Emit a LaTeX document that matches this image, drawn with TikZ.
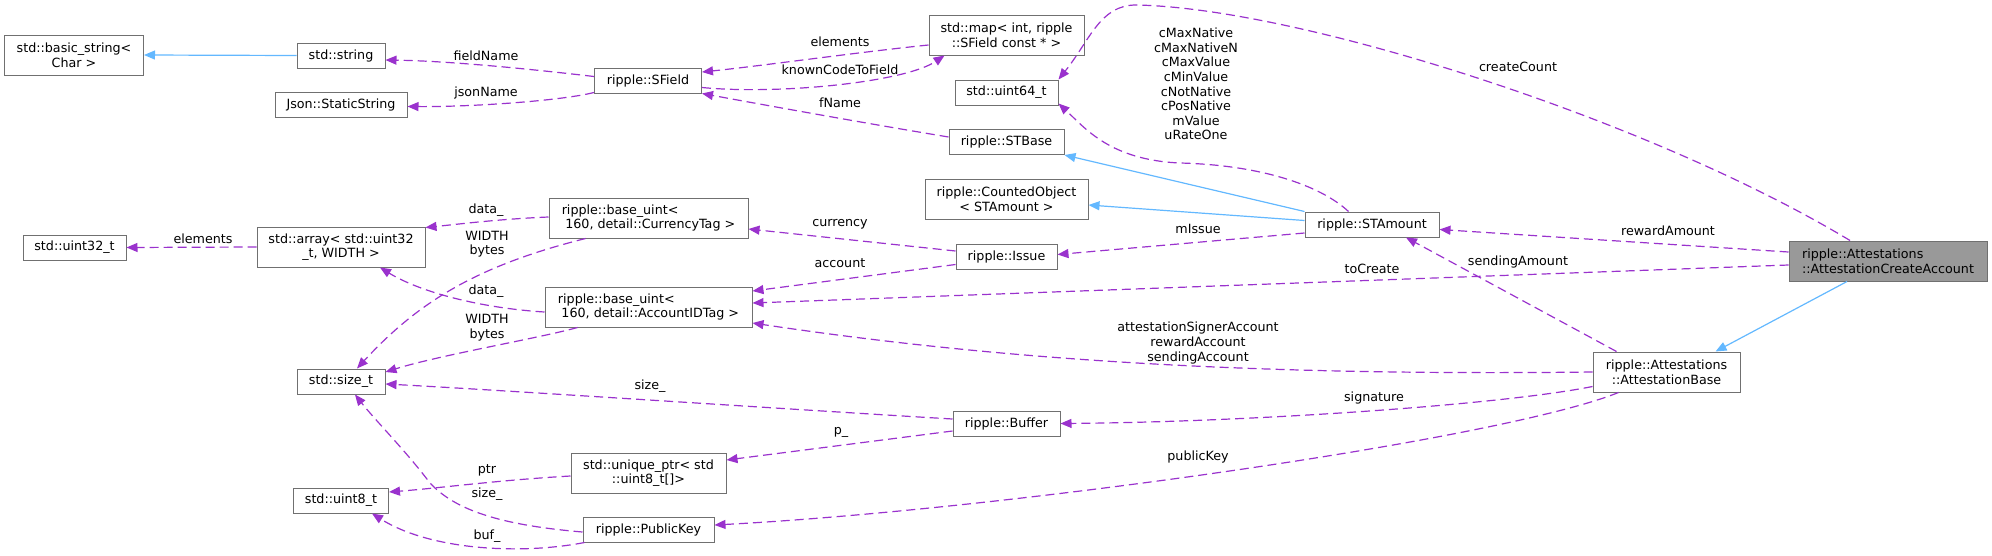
\documentclass[tikz,border=0pt]{standalone}
\usepackage{fontspec}
\setmainfont{DejaVu Sans}
\usetikzlibrary{arrows.meta,calc}
\definecolor{edgepurple}{HTML}{9A32CD}
\definecolor{inhblue}{HTML}{63B8FF}
\definecolor{boxline}{HTML}{707070}
\definecolor{curfill}{HTML}{999999}
\newcommand{\dvf}{\fontsize{12.7}{14.6}\selectfont}

\begin{document}
\begin{tikzpicture}[
  x=1pt, y=-1pt,
  cls/.style={draw=boxline, fill=white, line width=1pt, inner sep=0pt, minimum height=25pt, font=\dvf, align=center},
  clsl/.style={cls, align=left},
  current/.style={clsl, fill=curfill},
  member/.style={draw=edgepurple, line width=1.2pt, dash pattern=on 9pt off 5pt, -{Triangle[length=11pt,width=9pt]}},
  inherit/.style={draw=inhblue, line width=1.2pt, -{Triangle[length=11pt,width=9pt]}},
  lbl/.style={font=\dvf, inner sep=0pt, align=center}
]
  \useasboundingbox (0,0) rectangle (1992,555);

  \node[cls, minimum width=139pt, minimum height=40pt] (bstring) at (74,55) {std::basic\_string<\\Char >};
  \node[cls, minimum width=88pt] (stdstring) at (341,55.5) {std::string};
  \node[cls, minimum width=132pt] (jsonstr) at (341,104.5) {Json::StaticString};
  \node[cls, minimum width=103pt] (uint32) at (74.5,247.5) {std::uint32\_t};
  \node[cls, minimum width=168pt, minimum height=40pt] (stdarray) at (341,247) {std::array< std::uint32\\\_t, WIDTH >};
  \node[cls, minimum width=88pt] (sizet) at (341,381.5) {std::size\_t};
  \node[cls, minimum width=95pt] (uint8) at (341,500.5) {std::uint8\_t};
  \node[cls, minimum width=107pt] (sfield) at (648,80.5) {ripple::SField};
  \node[clsl, minimum width=199pt, minimum height=40pt] (curuint) at (648.5,218) {ripple::base\_uint<\\\hspace*{3.5pt}160, detail::CurrencyTag >};
  \node[clsl, minimum width=207pt, minimum height=40pt] (accuint) at (648.5,307) {ripple::base\_uint<\\\hspace*{3.5pt}160, detail::AccountIDTag >};
  \node[cls, minimum width=155pt, minimum height=40pt] (uniqptr) at (648.5,473) {std::unique\_ptr< std\\::uint8\_t[]>};
  \node[cls, minimum width=131pt] (pubkey) at (648.5,529.5) {ripple::PublicKey};
  \node[cls, minimum width=155pt, minimum height=40pt] (stdmap) at (1006.5,35) {std::map< int, ripple\\::SField const * >};
  \node[cls, minimum width=103pt] (uint64) at (1006.5,92.5) {std::uint64\_t};
  \node[cls, minimum width=115pt] (stbase) at (1006.5,142) {ripple::STBase};
  \node[cls, minimum width=163pt, minimum height=40pt] (counted) at (1006.5,199) {ripple::CountedObject\\< STAmount >};
  \node[cls, minimum width=101pt] (issue) at (1006.5,256.5) {ripple::Issue};
  \node[cls, minimum width=107pt] (buffer) at (1006.5,423.5) {ripple::Buffer};
  \node[cls, minimum width=134pt] (stamount) at (1372,224.5) {ripple::STAmount};
  \node[cls, minimum width=147pt, minimum height=40pt] (attbase) at (1666.5,372) {ripple::Attestations\\::AttestationBase};
  \node[current, minimum width=198pt, minimum height=40pt] (createacc) at (1888,261) {ripple::Attestations\\::AttestationCreateAccount};

  \draw[inherit] (stdstring.west) -- (bstring.east);
  \draw[member] ($(sfield.west)+(0,-4)$) .. controls (530,69) and (450,61) .. ($(stdstring.east)+(0,4.5)$);
  \draw[member] ($(sfield.south west)+(0,-1)$) .. controls (560,101) and (470,107) .. ($(jsonstr.east)+(0,2)$);
  \draw[member] ($(stdmap.west)+(0,10)$) .. controls (860,52) and (760,66) .. ($(sfield.east)+(0,-8.5)$);
  \draw[member] ($(sfield.east)+(0,7)$) .. controls (780,95) and (905,82) .. ($(stdmap.south)+(-62,0)$);
  \draw[member] ($(stbase.west)+(0,-5)$) .. controls (870,124) and (770,106) .. (sfield.south east);
  \draw[member] ($(stamount.north west)+(44,0)$) .. controls (1320,185) and (1260,165) .. (1180,163) .. controls (1110,160) and (1085,128) .. ($(uint64.south east)+(0,-2)$);
  \draw[member] ($(createacc.north)+(-38,0)$) .. controls (1650,120) and (1300,8) .. (1136,5) .. controls (1100,5) and (1090,40) .. (uint64.north east);
  \draw[inherit] (stamount.north west) -- (stbase.south east);
  \draw[inherit] ($(stamount.west)+(0,-4)$) -- ($(counted.east)+(0,6)$);
  \draw[member] ($(stamount.west)+(0,8.5)$) -- ($(issue.east)+(0,-2)$);
  \draw[member] ($(issue.west)+(0,-5.5)$) -- ($(curuint.east)+(0,11)$);
  \draw[member] ($(issue.west)+(0,8)$) -- ($(accuint.east)+(0,-16)$);
  \draw[member] ($(createacc.west)+(0,4)$) -- ($(accuint.east)+(0,-4)$);
  \draw[member] ($(createacc.west)+(0,-9)$) -- ($(stamount.east)+(0,5)$);
  \draw[member] ($(attbase.north west)+(24,0)$) -- ($(stamount.south)+(34,0)$);
  \draw[inherit] ($(createacc.south)+(-41,0)$) -- ($(attbase.north east)+(-25,0)$);
  \draw[member] (attbase.west) .. controls (1250,376) and (1000,360) .. ($(accuint.east)+(0,16)$);
  \draw[member] ($(curuint.west)+(0,-1)$) .. controls (500,219) and (460,224) .. ($(stdarray.north east)+(0,1)$);
  \draw[member] ($(curuint.south)+(-63,0)$) .. controls (480,265) and (420,300) .. ($(sizet.north)+(16,0)$);
  \draw[member] ($(accuint.west)+(0,5)$) .. controls (480,308) and (420,292) .. ($(stdarray.south)+(39,0)$);
  \draw[member] ($(accuint.south)+(-71,0)$) .. controls (540,338) and (440,355) .. ($(sizet.east)+(0,-9.5)$);
  \draw[member] (stdarray.west) -- (uint32.east);
  \draw[member] ($(buffer.west)+(0,-4.5)$) .. controls (800,410) and (500,390) .. ($(sizet.east)+(0,2.5)$);
  \draw[member] ($(buffer.west)+(0,7.5)$) -- ($(uniqptr.east)+(0,-13)$);
  \draw[member] ($(attbase.south west)+(0,-6)$) .. controls (1500,405) and (1250,422) .. (buffer.east);
  \draw[member] ($(attbase.south west)+(26,0)$) .. controls (1500,440) and (1000,510) .. ($(pubkey.east)+(0,-4.5)$);
  \draw[member] ($(uniqptr.west)+(0,3)$) .. controls (500,480) and (440,488) .. ($(uint8.east)+(0,-8.5)$);
  \draw[member] ($(pubkey.west)+(0,2.5)$) .. controls (500,525) and (455,510) .. (430,483) .. controls (405,450) and (375,420) .. ($(sizet.south)+(14,0)$);
  \draw[member] ($(pubkey.south west)+(2,0)$) .. controls (520,555) and (430,550) .. ($(uint8.south)+(31,0)$);

  \node[lbl] (lfieldname) at (486,56) {fieldName};
  \node[lbl] (ljsonname) at (486,93) {jsonName};
  \node[lbl] (lelements) at (840,42) {elements};
  \node[lbl] (lknown) at (840,70) {knownCodeToField};
  \node[lbl] (lfname) at (840,103) {fName};
  \node[lbl] (lconsts) at (1196,84) {cMaxNative\\cMaxNativeN\\cMaxValue\\cMinValue\\cNotNative\\cPosNative\\mValue\\uRateOne};
  \node[lbl] (lcreatecount) at (1518,67) {createCount};
  \node[lbl] (lmissue) at (1198,229) {mIssue};
  \node[lbl] (lcurrency) at (840,224) {currency};
  \node[lbl] (laccount) at (840,263) {account};
  \node[lbl] (lreward) at (1668,231) {rewardAmount};
  \node[lbl] (lsending) at (1518,262) {sendingAmount};
  \node[lbl] (ltocreate) at (1372,269) {toCreate};
  \node[lbl] (laccounts) at (1198,343) {attestationSignerAccount\\rewardAccount\\sendingAccount};
  \node[lbl] (ldata1) at (486,210) {data\_};
  \node[lbl] (lwidth1) at (487,244) {WIDTH\\bytes};
  \node[lbl] (ldata2) at (486,291) {data\_};
  \node[lbl] (lwidth2) at (487,327.5) {WIDTH\\bytes};
  \node[lbl] (lelements2) at (203,239) {elements};
  \node[lbl] (lsize1) at (650,386) {size\_};
  \node[lbl] (lp) at (841,432) {p\_};
  \node[lbl] (lsignature) at (1374,398) {signature};
  \node[lbl] (lpubkey) at (1198,457) {publicKey};
  \node[lbl] (lptr) at (487,470) {ptr};
  \node[lbl] (lsize2) at (487,494) {size\_};
  \node[lbl] (lbuf) at (487,536) {buf\_};
\end{tikzpicture}
\end{document}
